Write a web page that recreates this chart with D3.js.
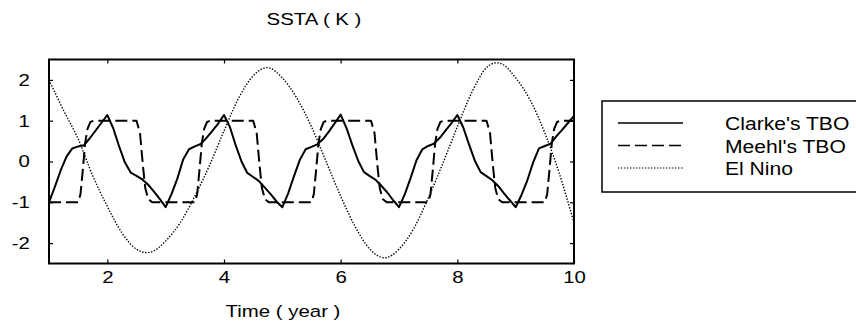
<!DOCTYPE html>
<html>
<head>
<meta charset="utf-8">
<script src="https://cdn.jsdelivr.net/npm/d3@7"></script>
<style>
  body { margin: 0; background: #fff; }
  text { font-family: "Liberation Sans", Arial, sans-serif; fill: #000; }
</style>
</head>
<body>
<svg id="chart" width="856" height="326"></svg>
<script>
const svg = d3.select('#chart')

// time axis for the two sampled series
const clarkeT = d3.range(91).map(i => +(1 + i * 0.1).toFixed(1))
const clarke = [
  -1.00, -0.62, -0.22, 0.12, 0.32, 0.37, 0.40, 0.57, 0.76, 0.95,
  1.14, 0.82, 0.38, -0.02, -0.27, -0.35, -0.44, -0.57, -0.74, -0.92,
  -1.12, -0.80, -0.42, 0.05, 0.30, 0.37, 0.43, 0.58, 0.75, 0.93,
  1.14, 0.85, 0.40, 0.00, -0.28, -0.38, -0.48, -0.64, -0.80, -0.98,
  -1.12, -0.78, -0.36, 0.04, 0.30, 0.36, 0.42, 0.55, 0.74, 0.94,
  1.15, 0.82, 0.40, 0.02, -0.26, -0.36, -0.45, -0.60, -0.76, -0.95,
  -1.12, -0.80, -0.40, 0.03, 0.30, 0.38, 0.44, 0.58, 0.76, 0.94,
  1.14, 0.84, 0.42, 0.02, -0.26, -0.36, -0.46, -0.60, -0.78, -0.95,
  -1.12, -0.82, -0.46, -0.02, 0.32, 0.38, 0.44, 0.62, 0.78, 0.95,
  1.12
]

const meehlT = [1, 1.5, 1.54, 1.58, 1.62, 1.66, 1.71, 1.77, 2.5, 2.56, 2.61, 2.65, 2.70, 2.77,
  3.5, 3.54, 3.58, 3.62, 3.66, 3.71, 3.77, 4.5, 4.56, 4.61, 4.65, 4.70, 4.77,
  5.5, 5.54, 5.58, 5.62, 5.66, 5.71, 5.77, 6.52, 6.58, 6.63, 6.67, 6.72, 6.79,
  7.5, 7.54, 7.58, 7.62, 7.66, 7.71, 7.77, 8.5, 8.56, 8.61, 8.65, 8.70, 8.77,
  9.5, 9.54, 9.58, 9.62, 9.66, 9.71, 9.77, 10]
const meehl = [-1, -1, -0.8, -0.2, 0.45, 0.8, 0.97, 1, 1, 0.7, -0.1, -0.65, -0.92, -1,
  -1, -0.8, -0.2, 0.45, 0.8, 0.97, 1, 1, 0.7, -0.1, -0.65, -0.92, -1,
  -1, -0.8, -0.2, 0.45, 0.8, 0.97, 1, 1, 0.7, -0.1, -0.65, -0.92, -1,
  -1, -0.8, -0.2, 0.45, 0.8, 0.97, 1, 1, 0.7, -0.1, -0.65, -0.92, -1,
  -1, -0.8, -0.2, 0.45, 0.8, 0.97, 1, 1]

const ninoT = d3.range(37).map(i => 1 + i * 0.25)
const nino = [2.0, 1.25, 0.55, -0.35, -1.1, -1.75, -2.15, -2.22, -1.95,
  -1.5, -0.85, -0.1, 0.75, 1.55, 2.1, 2.3, 2.05, 1.55,
  0.85, 0.0, -0.85, -1.6, -2.15, -2.36, -2.15, -1.65, -0.9,
  -0.05, 0.85, 1.7, 2.3, 2.4, 2.05, 1.5, 0.7, -0.3, -1.5]

const xTicks = [2, 4, 6, 8, 10]
const yTicks = [-2, -1, 0, 1, 2]
const seriesNames = ["Clarke's TBO", "Meehl's TBO", 'El Nino']

const plotL = 49, plotR = 574, plotT = 59.5, plotB = 263.5
const sx = 1.2 // the source figure is stretched sideways

const xScale = d3.scaleLinear().domain([1, 10]).range([plotL, plotR])
const yScale = d3.scaleLinear().domain([-2.5, 2.5]).range([plotB, plotT])

const styles = [
  { width: 2, dash: null },
  { width: 2, dash: '12,5' },
  { width: 1.4, dash: '1.4,1.6' }
]

const line = d3.line()
  .x(d => xScale(d[0]))
  .y(d => yScale(d[1]))

const series = [
  d3.zip(clarkeT, clarke),
  d3.zip(meehlT, meehl),
  d3.zip(ninoT, nino)
]

svg.append('defs').append('clipPath').attr('id', 'clip')
  .append('rect')
  .attr('x', plotL).attr('y', plotT)
  .attr('width', plotR - plotL).attr('height', plotB - plotT)

const plot = svg.append('g').attr('clip-path', 'url(#clip)')
series.forEach((s, i) => {
  plot.append('path')
    .attr('d', i === 2 ? line.curve(d3.curveCardinal)(s) : line.curve(d3.curveLinear)(s))
    .attr('fill', 'none')
    .attr('stroke', '#000')
    .attr('stroke-width', styles[i].width)
    .attr('stroke-dasharray', styles[i].dash)
    .attr('stroke-linejoin', 'round')
})

// axes: inward ticks on all four sides, plain hyphen for negatives
const plain = d => String(d)
const tickLen = 4
const bAxis = svg.append('g')
  .attr('transform', `translate(0,${plotB})`)
  .call(d3.axisBottom(xScale).tickValues(xTicks).tickSize(-tickLen).tickSizeOuter(0).tickFormat(plain))
svg.append('g')
  .attr('transform', `translate(0,${plotT})`)
  .call(d3.axisTop(xScale).tickValues(xTicks).tickSize(-tickLen).tickSizeOuter(0).tickFormat(''))
const lAxis = svg.append('g')
  .attr('transform', `translate(${plotL},0)`)
  .call(d3.axisLeft(yScale).tickValues(yTicks).tickSize(-tickLen).tickSizeOuter(0).tickFormat(plain))
svg.append('g')
  .attr('transform', `translate(${plotR},0)`)
  .call(d3.axisRight(yScale).tickValues(yTicks).tickSize(-tickLen).tickSizeOuter(0).tickFormat(''))

svg.selectAll('.domain').remove()
svg.selectAll('.tick line').attr('stroke', '#000').attr('stroke-width', 1.2)
svg.selectAll('.tick text')
  .attr('font-size', 17)
  .attr('font-family', '"Liberation Sans", Arial, sans-serif')
  .attr('fill', '#000')
bAxis.selectAll('.tick text').attr('transform', `scale(${sx},1)`).attr('y', 7)
lAxis.selectAll('.tick text').attr('transform', `scale(${sx},1)`).attr('x', -16)

svg.append('rect')
  .attr('x', plotL).attr('y', plotT)
  .attr('width', plotR - plotL).attr('height', plotB - plotT)
  .attr('fill', 'none')
  .attr('stroke', '#000')
  .attr('stroke-width', 2)

const stretchedText = (x, y, str, anchor, size, k) => {
  svg.append('g')
    .attr('transform', `translate(${x},${y}) scale(${k},1)`)
    .append('text')
    .attr('text-anchor', anchor)
    .attr('font-size', size)
    .text(str)
}

stretchedText(314, 25, 'SSTA ( K )', 'middle', 17, sx)
stretchedText(283, 317, 'Time ( year )', 'middle', 17, sx)

// legend
const legend = svg.append('g')
legend.append('rect')
  .attr('x', 602).attr('y', 101)
  .attr('width', 300).attr('height', 91)
  .attr('fill', '#fff')
  .attr('stroke', '#000')
  .attr('stroke-width', 1.5)

const legY = d3.scalePoint().domain(seriesNames).range([123, 168])
seriesNames.forEach((name, i) => {
  legend.append('line')
    .attr('x1', 618).attr('x2', 683)
    .attr('y1', legY(name)).attr('y2', legY(name))
    .attr('stroke', '#000')
    .attr('stroke-width', i === 0 ? 1.3 : styles[i].width - (i === 2 ? 0.2 : 0.5))
    .attr('stroke-dasharray', styles[i].dash)
  stretchedText(725, legY(name) + 7, name, 'start', 18.5, 1.14)
})
</script>
</body>
</html>
